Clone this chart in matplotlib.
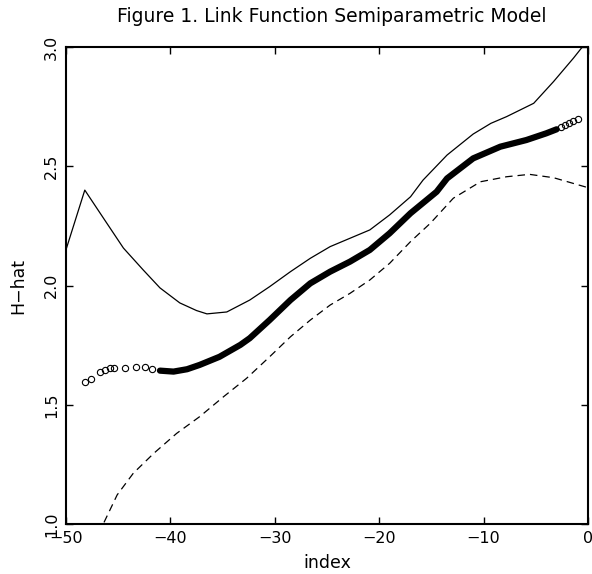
import matplotlib
matplotlib.use('Agg')
from matplotlib import pyplot as plt

# upper band (solid line)
upper_x = [-50, -48.2, -46.3, -44.5, -42.6, -41.0, -39.1, -37.5, -36.5, -34.6,
           -32.4, -30.5, -28.5, -26.6, -24.7, -22.8, -20.9, -19.0, -17.0, -15.8,
           -13.5, -11.0, -9.3, -7.8, -5.2, -3.3, -1.4, 0]
upper_y = [2.15, 2.40, 2.275, 2.157, 2.065, 1.99, 1.927, 1.895, 1.881, 1.889,
           1.939, 1.995, 2.058, 2.114, 2.163, 2.198, 2.233, 2.296, 2.372, 2.442,
           2.547, 2.635, 2.680, 2.708, 2.764, 2.855, 2.953, 3.03]

# lower band (dashed line)
lower_x = [-46.9, -46.4, -45.1, -43.55, -41.6, -39.4, -37.2, -34.9, -32.7, -30.5,
           -28.5, -26.6, -24.7, -22.8, -20.9, -19.0, -17.0, -15.1, -12.9, -10.3,
           -7.8, -5.6, -3.3, -0.3, 0]
lower_y = [0.96, 1.003, 1.122, 1.213, 1.296, 1.380, 1.450, 1.534, 1.611, 1.701,
           1.785, 1.855, 1.918, 1.967, 2.023, 2.093, 2.184, 2.261, 2.366, 2.435,
           2.456, 2.466, 2.452, 2.414, 2.41]

# fitted link (dense part of the circles)
fit_x = [-41.0, -39.7, -38.4, -37.2, -35.3, -33.3, -32.4, -30.5, -28.5, -26.6,
         -24.7, -22.8, -20.9, -19.0, -17.0, -14.5, -13.5, -11.0, -8.4, -5.9,
         -4.0, -3.0]
fit_y = [1.643, 1.639, 1.649, 1.667, 1.701, 1.751, 1.779, 1.855, 1.939, 2.009,
         2.058, 2.100, 2.149, 2.219, 2.303, 2.393, 2.449, 2.533, 2.582, 2.610,
         2.638, 2.655]

# single circles at both ends
circ_x = [-48.2, -47.6, -46.7, -46.3, -45.8, -45.4, -44.35, -43.3, -42.4, -41.8,
          -2.6, -2.2, -1.8, -1.4, -1.0]
circ_y = [1.597, 1.608, 1.636, 1.646, 1.653, 1.655, 1.655, 1.660, 1.657, 1.650,
          2.665, 2.675, 2.683, 2.690, 2.698]

fig = plt.figure(figsize=(5.92, 5.74), dpi=100)
ax = fig.add_axes([66/592, 50/574, 522/592, 477/574])

ax.plot(upper_x, upper_y, color='black', lw=0.9)
ax.plot(lower_x, lower_y, color='black', lw=0.9, dashes=[6, 4])
ax.plot(fit_x, fit_y, color='black', lw=4.5, solid_capstyle='round')
ax.plot(circ_x, circ_y, 'o', ms=4.5, mfc='none', mec='black', mew=0.8)

ax.set_xlim(-50, 0)
ax.set_ylim(1.0, 3.0)
ax.set_xticks([-50, -40, -30, -20, -10, 0])
ax.set_yticks([1.0, 1.5, 2.0, 2.5, 3.0])
ax.set_yticklabels(['1.0', '1.5', '2.0', '2.5', '3.0'], rotation=90, va='center')
ax.tick_params(direction='in', length=5, width=1, top=True, right=True,
               labelsize=11.5, pad=5)
for s in ax.spines.values():
    s.set_linewidth(1.5)

ax.set_xlabel('index', fontsize=12.5, labelpad=6)
ax.set_ylabel('H\u2212hat', fontsize=12.5, labelpad=12)
fig.text(332/592, 1 - 17/574, 'Figure 1. Link Function Semiparametric Model',
         ha='center', va='center', fontsize=13.5)

plt.savefig('out.png', dpi=100)
